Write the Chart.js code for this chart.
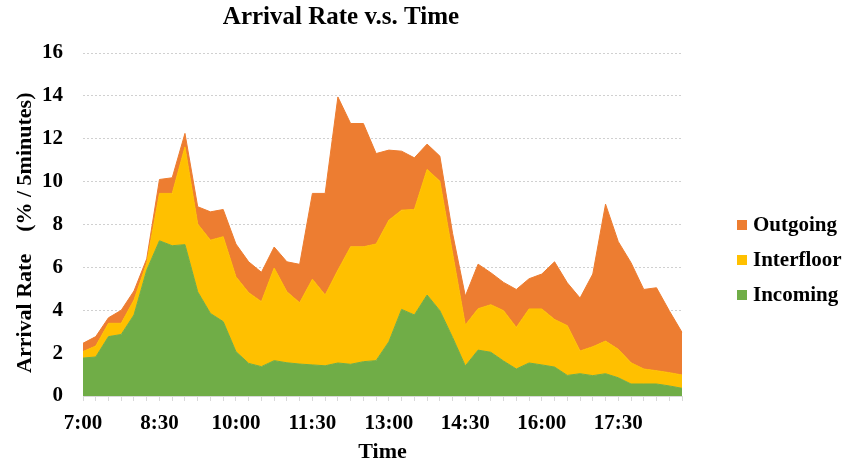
<!DOCTYPE html>
<html>
<head>
<meta charset="utf-8">
<script src="https://cdn.jsdelivr.net/npm/chart.js@4/dist/chart.umd.min.js"></script>
<style>
  body { margin: 0; background: #fff; }
  #wrap { position: relative; width: 845px; height: 466px; }
  #legend { position: absolute; left: 737px; top: 207px; font: bold 21px "Liberation Serif", serif; color: #000; }
  #legend div { height: 35px; line-height: 35px; white-space: nowrap; }
  #legend span { display: inline-block; width: 10px; height: 10px; margin-right: 6px; vertical-align: 1px; }
</style>
</head>
<body>
<div id="wrap">
  <canvas id="arrivalChart" width="845" height="466"></canvas>
  <div id="legend"></div>
</div>
<script>
// time slots (15 min)
const times = ['7:00','7:15','7:30','7:45','8:00','8:15','8:30','8:45','9:00','9:15','9:30','9:45',
    '10:00','10:15','10:30','10:45','11:00','11:15','11:30','11:45','12:00','12:15','12:30','12:45',
    '13:00','13:15','13:30','13:45','14:00','14:15','14:30','14:45','15:00','15:15','15:30','15:45',
    '16:00','16:15','16:30','16:45','17:00','17:15','17:30','17:45','18:00','18:15','18:30','18:45'];
const shownTicks = ['7:00','8:30','10:00','11:30','13:00','14:30','16:00','17:30'];

// arrival rate, % / 5 minutes
const incoming = [1.77,1.82,2.77,2.87,3.78,5.87, 7.24,7.01,7.06,4.86,3.85,3.47,
    2.07,1.52,1.37,1.65,1.55,1.49, 1.45,1.41,1.54,1.48,1.60,1.65,
    2.53,4.04,3.78,4.71,3.98,2.73, 1.40,2.14,2.04,1.63,1.26,1.54,
    1.45,1.35,0.96,1.04,0.95,1.04, 0.85,0.56,0.56,0.56,0.47,0.36];
const interfloor = [0.30,0.51,0.62,0.52,0.70,0.33, 2.21,2.44,4.56,3.16,3.42,3.96,
    3.49,3.30,3.03,4.32,3.31,2.86, 4.00,3.30,4.33,5.48,5.36,5.44,
    5.67,4.63,4.92,5.86,6.04,3.92, 1.91,1.93,2.22,2.35,1.94,2.52,
    2.61,2.22,2.32,1.06,1.35,1.52, 1.33,0.99,0.70,0.62,0.62,0.62];
const outgoing = [0.39,0.44,0.26,0.61,0.42,0.20, 0.65,0.73,0.63,0.81,1.32,1.27,
    1.53,1.44,1.37,0.98,1.40,1.79, 4.00,4.74,8.08,5.75,5.75,4.22,
    3.27,2.75,2.41,1.18,1.17,0.93, 1.35,2.08,1.49,1.32,1.77,1.41,
    1.63,2.69,2.00,2.47,3.39,6.39, 5.02,4.67,3.71,3.87,2.89,1.99];

Chart.defaults.font.family = '"Liberation Serif", "Times New Roman", serif';
Chart.defaults.font.weight = 'bold';
Chart.defaults.color = '#000';

const area = (label, data, color, fill) => ({
    label: label,
    data: data,
    backgroundColor: color,
    borderColor: color,
    borderWidth: 1,
    pointRadius: 0,
    fill: fill
});

const ctx = document.getElementById('arrivalChart').getContext('2d');
const arrivalChart = new Chart(ctx, {
    type: 'line',
    data: {
        labels: times,
        datasets: [
            area('Incoming', incoming, '#70AD47', 'origin'),
            area('Interfloor', interfloor, '#FFC000', '-1'),
            area('Outgoing', outgoing, '#ED7D31', '-1')
        ]
    },
    options: {
        responsive: false,
        animation: false,
        devicePixelRatio: 1,
        layout: { padding: { left: 0, right: 163, top: 0, bottom: 0 } },
        plugins: {
            legend: { display: false },
            tooltip: { enabled: false },
            title: {
                display: true,
                text: 'Arrival Rate v.s. Time',
                font: { size: 25, weight: 'bold' },
                padding: { top: 3, bottom: 20 }
            }
        },
        scales: {
            x: {
                ticks: {
                    autoSkip: false,
                    maxRotation: 0,
                    minRotation: 0,
                    padding: 10,
                    font: { size: 21 },
                    callback: (v, i) => shownTicks.includes(times[i]) ? times[i] : ''
                },
                grid: { drawOnChartArea: false, drawTicks: true, tickLength: 5, color: '#d9d9d9' },
                border: { color: '#d9d9d9' },
                title: { display: true, text: 'Time', font: { size: 22 }, padding: { top: 0, bottom: 0 } },
                afterFit: (s) => { s.height = 70; }
            },
            y: {
                stacked: true,
                min: 0,
                max: 16,
                ticks: { stepSize: 2, padding: 20, font: { size: 21 } },
                grid: { color: '#d0d0d0', drawTicks: false },
                border: { display: false, dash: [2, 2] },
                title: {
                    display: true,
                    text: 'Arrival Rate    (% / 5minutes)   ',
                    font: { size: 22 },
                    padding: { top: 12, bottom: 0 }
                },
                afterFit: (s) => { s.width = 83; }
            }
        }
    }
});

// html legend, top to bottom = reverse stack order
const legendBox = document.getElementById('legend');
arrivalChart.data.datasets.slice().reverse().forEach((ds) => {
    const row = document.createElement('div');
    const sw = document.createElement('span');
    sw.style.background = ds.backgroundColor;
    row.appendChild(sw);
    row.appendChild(document.createTextNode(ds.label));
    legendBox.appendChild(row);
});
</script>
</body>
</html>
